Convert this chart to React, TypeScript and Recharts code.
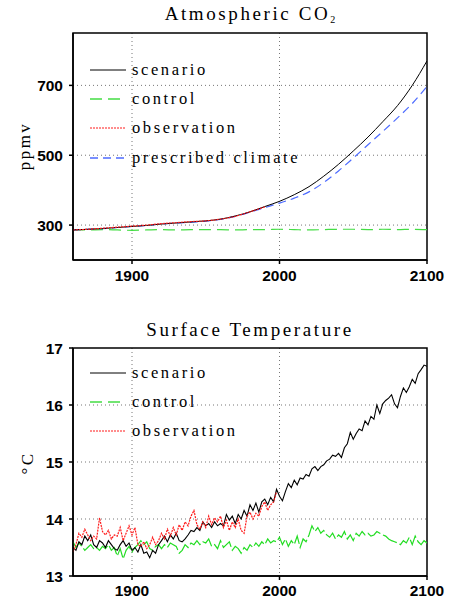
import React from "react";
import {
  LineChart,
  Line,
  XAxis,
  YAxis,
  CartesianGrid,
  ReferenceArea,
} from "recharts";

// CO2 (ppmv), every 10 years from 1860
const co2Start = 1860;
const co2Scenario = [286, 288, 290, 293, 296, 299, 303, 306, 309, 312, 317, 326, 338, 353, 368, 387, 410, 440, 474, 512, 552, 596, 642, 700, 770];
const co2Control = [287, 286, 287, 286, 285, 286, 287, 286, 287, 287, 287, 286, 287, 287, 288, 287, 286, 287, 288, 288, 287, 288, 287, 288, 287];
const co2Observation = [286, 288, 291, 294, 297, 300, 304, 307, 310, 312, 317, 325, 338, 352];
const co2Prescribed = [286, 288, 290, 293, 296, 299, 303, 306, 308, 311, 316, 325, 337, 350, 363, 377, 395, 422, 455, 492, 530, 568, 607, 648, 697];

// surface temperature (°C), every 2 years from 1860
const tStart = 1860;
const tScenario = [
  13.5, 13.45, 13.6, 13.55, 13.7, 13.62, 13.72, 13.55, 13.5, 13.62,
  13.58, 13.5, 13.62, 13.55, 13.48, 13.45, 13.55, 13.62, 13.52, 13.58,
  13.45, 13.5, 13.42, 13.55, 13.4, 13.42, 13.32, 13.45, 13.4, 13.55,
  13.62, 13.7, 13.6, 13.72, 13.65, 13.75, 13.62, 13.6, 13.65, 13.72,
  13.8, 13.78, 13.85, 13.8, 13.95, 13.88, 13.92, 13.85, 13.95, 13.88,
  13.92, 13.88, 14.08, 13.98, 14.05, 13.92, 14.08, 14.0, 14.15, 14.05,
  14.25, 14.15, 14.28, 14.12, 14.3, 14.35, 14.25, 14.38, 14.3, 14.52,
  14.4, 14.32, 14.48, 14.62, 14.55, 14.68, 14.6, 14.72, 14.7, 14.78,
  14.75, 14.88, 14.92, 14.85, 14.92, 14.95, 15.02, 15.05, 15.12, 15.1,
  15.15, 15.08, 15.25, 15.32, 15.52, 15.4, 15.5, 15.58, 15.55, 15.72,
  15.65, 15.8, 15.75, 16.0, 15.85, 16.02, 16.08, 16.12, 16.18, 16.02,
  15.95, 16.15, 16.3, 16.22, 16.32, 16.45, 16.38, 16.55, 16.62, 16.7,
  16.68,
];
const tControl = [
  13.6, 13.5, 13.58, 13.52, 13.45, 13.5, 13.55, 13.48, 13.5, 13.45,
  13.52, 13.48, 13.55, 13.45, 13.5, 13.35, 13.48, 13.3, 13.45, 13.52,
  13.42, 13.5, 13.55, 13.62, 13.55, 13.6, 13.48, 13.45, 13.52, 13.55,
  13.48, 13.55, 13.5, 13.58, 13.55, 13.52, 13.4, 13.45, 13.55, 13.5,
  13.58, 13.55, 13.62, 13.55, 13.6, 13.58, 13.65, 13.52, 13.55, 13.48,
  13.62, 13.5, 13.55, 13.6, 13.45, 13.52, 13.48, 13.4, 13.5, 13.45,
  13.55, 13.5, 13.58, 13.52, 13.6, 13.55, 13.65, 13.58, 13.62, 13.6,
  13.68, 13.55, 13.65, 13.52, 13.62, 13.55, 13.7, 13.5, 13.65, 13.6,
  13.72, 13.88, 13.78, 13.85, 13.75, 13.8, 13.72, 13.68, 13.75, 13.65,
  13.72, 13.68, 13.78, 13.65, 13.72, 13.62, 13.75, 13.7, 13.78, 13.72,
  13.75, 13.7, 13.72, 13.78, 13.75, 13.72, 13.7, 13.65, 13.62, 13.6,
  13.58, 13.55, 13.62, 13.58, 13.68, 13.55, 13.7, 13.6, 13.55, 13.62,
  13.58,
];
const tObservation = [
  13.42, 13.55, 13.75, 13.68, 13.82, 13.72, 13.62, 13.7, 13.65, 14.02,
  13.78, 13.72, 13.8, 13.65, 13.72, 13.7, 13.85, 13.62, 13.75, 13.88,
  13.72, 13.85, 13.55, 13.52, 13.6, 13.48, 13.55, 13.68, 13.55, 13.62,
  13.75, 13.65, 13.82, 13.7, 13.85, 13.72, 13.9, 13.8, 13.95, 13.88,
  14.05, 14.15, 13.9, 13.82, 13.95, 13.85, 14.05, 13.9, 14.02, 13.95,
  14.05, 13.85, 13.98, 13.8, 13.95, 13.85, 14.0, 13.8, 13.75, 14.05,
  14.12, 14.0, 14.1, 14.05, 14.22, 14.3, 14.15, 14.25, 14.3, 14.48,
];

const xTicks = [1900, 2000, 2100];
const co2Ticks = [300, 500, 700];
const tTicks = [13, 14, 15, 16, 17];

const co2Data = co2Scenario.map((v, i) => ({
  year: co2Start + i * 10,
  scenario: v,
  control: co2Control[i],
  observation: co2Observation[i],
  prescribed: co2Prescribed[i],
}));

const tData = tScenario.map((v, i) => ({
  year: tStart + i * 2,
  scenario: v,
  control: tControl[i],
  observation: tObservation[i],
}));

const GREEN = "#44dd44";
const RED = "#ff1a1a";
const BLUE = "#4d6bff";
// typewriter-ish look: serif face, widely spaced
const serif = "'Liberation Serif', 'DejaVu Serif', serif";
const tickStyle = { fontFamily: "'Liberation Sans', Arial, sans-serif", fontWeight: 700, fontSize: 15.5, fill: "#000" };

function LegendBox({ top, items }: { top: number; items: { label: string; color: string; dash?: string; width?: number }[] }) {
  return (
    <div style={{ position: "absolute", left: 90, top }}>
      {items.map((it) => (
        <div key={it.label} style={{ display: "flex", alignItems: "center", height: 29.3 }}>
          <svg width={38} height={6}>
            <line x1={0} y1={3} x2={36} y2={3} stroke={it.color} strokeWidth={it.width ?? 1} strokeDasharray={it.dash} />
          </svg>
          <span style={{ fontFamily: serif, fontSize: 16.5, letterSpacing: 2.6, marginLeft: 4, lineHeight: "16px" }}>{it.label}</span>
        </div>
      ))}
    </div>
  );
}

function Title({ top, children }: { top: number; children: React.ReactNode }) {
  return (
    <div style={{ position: "absolute", left: 73, width: 354, top, textAlign: "center", fontFamily: serif, fontSize: 19, letterSpacing: 2.6 }}>
      {children}
    </div>
  );
}

function AxisLabel({ left, top, text }: { left: number; top: number; text: string }) {
  return (
    <div style={{ position: "absolute", left, top, transform: "translate(-50%, -50%) rotate(-90deg)", fontFamily: serif, fontSize: 17, letterSpacing: 2.4, whiteSpace: "nowrap" }}>
      {text}
    </div>
  );
}

export default function App() {
  return (
    <div style={{ position: "absolute", left: 0, top: 0, width: 450, height: 600, background: "#fff" }}>
      <Title top={3}>
        Atmospheric CO<span style={{ fontSize: 10, verticalAlign: "-3px", letterSpacing: 0 }}>2</span>
      </Title>
      <div style={{ position: "absolute", left: 0, top: 0 }}>
        <LineChart width={450} height={300} data={co2Data} margin={{ top: 33, right: 23, left: 33, bottom: 10 }}>
          <CartesianGrid stroke="#777" strokeDasharray="1 3" horizontalValues={co2Ticks} verticalValues={[1900, 2000]} />
          <XAxis
            dataKey="year"
            type="number"
            domain={[1860, 2100]}
            ticks={xTicks}
            allowDataOverflow
            height={30}
            tick={tickStyle}
            tickSize={4}
            tickMargin={6}
            stroke="#000"
            strokeWidth={1.5}
          />
          <YAxis
            type="number"
            domain={[200, 850]}
            ticks={co2Ticks}
            allowDataOverflow
            width={40}
            tick={tickStyle}
            tickSize={4}
            tickMargin={6}
            stroke="#000"
            strokeWidth={1.5}
          />
          <ReferenceArea x1={1860} x2={2100} y1={200} y2={850} fill="none" stroke="#000" strokeWidth={1.5} />
          <Line type="monotone" dataKey="control" stroke={GREEN} strokeWidth={1.2} strokeDasharray="12 6" dot={false} isAnimationActive={false} />
          <Line type="monotone" dataKey="prescribed" stroke={BLUE} strokeWidth={1.2} strokeDasharray="8 5" dot={false} isAnimationActive={false} />
          <Line type="monotone" dataKey="scenario" stroke="#000" strokeWidth={1} dot={false} isAnimationActive={false} />
          <Line type="monotone" dataKey="observation" stroke={RED} strokeWidth={1.2} strokeDasharray="2 1" dot={false} isAnimationActive={false} />
        </LineChart>
      </div>
      <AxisLabel left={25} top={146} text="ppmv" />
      <LegendBox
        top={55}
        items={[
          { label: "scenario", color: "#000" },
          { label: "control", color: GREEN, dash: "12 6", width: 1.5 },
          { label: "observation", color: RED, dash: "2 1" },
          { label: "prescribed climate", color: BLUE, dash: "8 5", width: 1.5 },
        ]}
      />

      <Title top={319}>Surface Temperature</Title>
      <div style={{ position: "absolute", left: 0, top: 300 }}>
        <LineChart width={450} height={300} data={tData} margin={{ top: 48, right: 23, left: 33, bottom: 0 }}>
          <CartesianGrid stroke="#777" strokeDasharray="1 3" horizontalValues={[14, 15, 16]} verticalValues={[1900, 2000]} />
          <XAxis
            dataKey="year"
            type="number"
            domain={[1860, 2100]}
            ticks={xTicks}
            allowDataOverflow
            height={24}
            tick={tickStyle}
            tickSize={4}
            tickMargin={5}
            stroke="#000"
            strokeWidth={1.5}
          />
          <YAxis
            type="number"
            domain={[13, 17]}
            ticks={tTicks}
            allowDataOverflow
            width={40}
            tick={tickStyle}
            tickSize={4}
            tickMargin={6}
            stroke="#000"
            strokeWidth={1.5}
          />
          <ReferenceArea x1={1860} x2={2100} y1={13} y2={17} fill="none" stroke="#000" strokeWidth={1.5} />
          <Line type="linear" dataKey="control" stroke="#22dd22" strokeWidth={1.2} strokeDasharray="16 3" dot={false} isAnimationActive={false} />
          <Line type="linear" dataKey="scenario" stroke="#000" strokeWidth={1.1} dot={false} isAnimationActive={false} />
          <Line type="linear" dataKey="observation" stroke={RED} strokeWidth={1.2} strokeDasharray="2 1" dot={false} isAnimationActive={false} />
        </LineChart>
      </div>
      <AxisLabel left={28} top={463} text="°C" />
      <LegendBox
        top={358}
        items={[
          { label: "scenario", color: "#000" },
          { label: "control", color: GREEN, dash: "12 6", width: 1.5 },
          { label: "observation", color: RED, dash: "2 1" },
        ]}
      />
    </div>
  );
}
